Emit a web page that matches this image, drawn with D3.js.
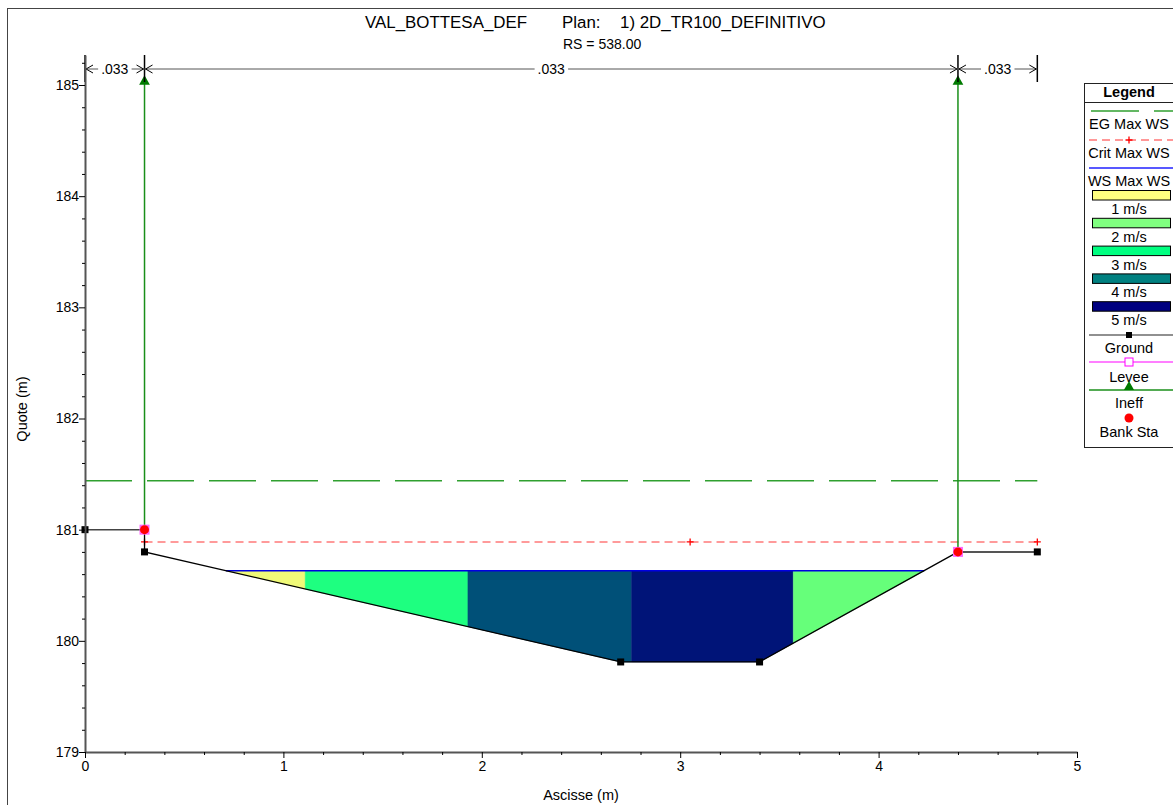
<!DOCTYPE html>
<html><head><meta charset="utf-8">
<script src="https://cdn.jsdelivr.net/npm/d3@7"></script>
<style>body{margin:0;background:#fff;}svg{display:block;font-family:"Liberation Sans",Arial,sans-serif;}</style>
</head><body>
<svg id="c" width="1173" height="805"></svg>
<script>
// ---- data ----
const groundX = [0, 0.3, 0.3, 2.7, 3.4, 4.4, 4.8];
const groundY = [181.0, 181.0, 180.8, 179.81, 179.81, 180.8, 180.8];
const groundMarkX = [0, 0.3, 2.7, 3.4, 4.8];
const groundMarkY = [181.0, 180.8, 179.81, 179.81, 180.8];
const wsElev = 180.63;
const wsExtent = [0.71, 4.23];
const egElev = 181.44;
const egExtent = [0, 4.8];
const critElev = 180.89;
const critX = [0.3, 3.05, 4.8];
const bandBounds = [0.71, 1.11, 1.93, 2.755, 3.57, 4.23];
const bandColors = ["#f0fa78", "#1eff80", "#005078", "#001478", "#66ff7a"];
const ineffX = [0.3, 4.4];
const ineffBase = [181.0, 180.8];
const ineffTop = 185.04;
const bankX = [0.3, 4.4];
const bankY = [181.0, 180.8];
const manningBounds = [0, 0.3, 4.4, 4.8];
const manningN = [".033", ".033", ".033"];
const yTicks = [179, 180, 181, 182, 183, 184, 185];
const xTicks = [0, 1, 2, 3, 4, 5];
const legendVel = ["1 m/s", "2 m/s", "3 m/s", "4 m/s", "5 m/s"];
const legendVelColors = ["#ffff80", "#80ff80", "#00ff80", "#008080", "#000080"];

const svg = d3.select("#c");
const x = d3.scaleLinear().domain([0, 5]).range([85, 1077]);
const y = d3.scaleLinear().domain([179, 185.27]).range([752, 55]);

// outer frame
svg.append("rect").attr("x", 7.5).attr("y", 8.5).attr("width", 1200).attr("height", 830)
  .attr("fill", "none").attr("stroke", "#444").attr("stroke-width", 1);

// title
svg.append("text").attr("x", 365).attr("y", 28).attr("font-size", 16.9).text("VAL_BOTTESA_DEF");
svg.append("text").attr("x", 562).attr("y", 28).attr("font-size", 16.9).text("Plan:");
svg.append("text").attr("x", 620).attr("y", 28).attr("font-size", 16.9).text("1) 2D_TR100_DEFINITIVO");
svg.append("text").attr("x", 563).attr("y", 49).attr("font-size", 14).text("RS = 538.00");

// velocity bands
const groundPts = groundX.map((d, i) => [d, groundY[i]]);
function groundAt(xx) {
  for (let i = 0; i < groundPts.length - 1; i++) {
    const a = groundPts[i], b = groundPts[i + 1];
    if (xx >= a[0] && xx <= b[0] && b[0] > a[0]) return a[1] + (b[1] - a[1]) * (xx - a[0]) / (b[0] - a[0]);
  }
  return groundPts[groundPts.length - 1][1];
}
for (let k = 0; k < bandColors.length; k++) {
  const x0 = bandBounds[k], x1 = bandBounds[k + 1];
  const pts = [[x0, wsElev], [x1, wsElev]];
  const inner = groundPts.filter(p => p[0] > x0 && p[0] < x1).reverse();
  pts.push([x1, Math.min(wsElev, groundAt(x1))]);
  inner.forEach(p => pts.push(p));
  pts.push([x0, Math.min(wsElev, groundAt(x0))]);
  svg.append("path").attr("d", "M" + pts.map(p => x(p[0]) + "," + y(p[1])).join("L") + "Z")
    .attr("fill", bandColors[k]).attr("stroke", bandColors[k]).attr("stroke-width", 0.5);
}

// WS line
svg.append("line").attr("x1", x(wsExtent[0])).attr("x2", x(wsExtent[1])).attr("y1", y(wsElev)).attr("y2", y(wsElev))
  .attr("stroke", "#0000e0").attr("stroke-width", 1.5);

// EG line
svg.append("line").attr("x1", x(egExtent[0])).attr("x2", x(egExtent[1])).attr("y1", y(egElev)).attr("y2", y(egElev))
  .attr("stroke", "#30a030").attr("stroke-width", 1.3).attr("stroke-dasharray", "47,15");

// Crit line
svg.append("line").attr("x1", x(critX[0])).attr("x2", x(critX[critX.length - 1])).attr("y1", y(critElev)).attr("y2", y(critElev))
  .attr("stroke", "#ff7a7a").attr("stroke-width", 1.5).attr("stroke-dasharray", "8,5");
critX.forEach(cx => {
  svg.append("path").attr("d", `M${x(cx) - 3.5},${y(critElev)}h7M${x(cx)},${y(critElev) - 3.5}v7`)
    .attr("stroke", "#ff0000").attr("stroke-width", 1.3);
});

// Ineff lines
ineffX.forEach((ix, i) => {
  svg.append("line").attr("x1", x(ix)).attr("x2", x(ix)).attr("y1", y(ineffBase[i])).attr("y2", y(ineffTop))
    .attr("stroke", "#1a8f1a").attr("stroke-width", 1.5);
  svg.append("path").attr("d", d3.symbol(d3.symbolTriangle, 50)()).attr("transform", `translate(${x(ix)},${y(ineffTop) + 1})`)
    .attr("fill", "#007a00");
});

// Ground line
const line = d3.line().x(d => x(d[0])).y(d => y(d[1]));
svg.append("path").attr("d", line(groundPts.slice(0, 2))).attr("fill", "none").attr("stroke", "#444").attr("stroke-width", 1.5);
svg.append("path").attr("d", line(groundPts.slice(1, 6))).attr("fill", "none").attr("stroke", "#000").attr("stroke-width", 1.3);
svg.append("path").attr("d", line(groundPts.slice(5))).attr("fill", "none").attr("stroke", "#555").attr("stroke-width", 2);
groundMarkX.forEach((gx, i) => {
  svg.append("rect").attr("x", x(gx) - 3.5).attr("y", y(groundMarkY[i]) - 3.5).attr("width", 7).attr("height", 7).attr("fill", "#000");
});

// bank stations
bankX.forEach((bx, i) => {
  svg.append("rect").attr("x", x(bx) - 5).attr("y", y(bankY[i]) - 5).attr("width", 10).attr("height", 10).attr("fill", "#ff66ff");
  svg.append("circle").attr("cx", x(bx)).attr("cy", y(bankY[i])).attr("r", 4.5).attr("fill", "#ff0000");
});

// Manning dimension lines
const dimY = 69;
manningBounds.forEach(b => {
  svg.append("line").attr("x1", x(b)).attr("x2", x(b)).attr("y1", 55).attr("y2", 82).attr("stroke", "#000").attr("stroke-width", 1.5);
});
manningN.forEach((n, i) => {
  const a = x(manningBounds[i]), b = x(manningBounds[i + 1]);
  svg.append("line").attr("x1", a).attr("x2", b).attr("y1", dimY).attr("y2", dimY).attr("stroke", "#555").attr("stroke-width", 1);
  svg.append("path").attr("d", `M${a + 8},${dimY - 4}L${a + 1},${dimY}L${a + 8},${dimY + 4}M${b - 8},${dimY - 4}L${b - 1},${dimY}L${b - 8},${dimY + 4}`)
    .attr("fill", "none").attr("stroke", "#000").attr("stroke-width", 1);
  const t = svg.append("text").attr("x", (a + b) / 2).attr("y", dimY + 5).attr("text-anchor", "middle").attr("font-size", 14).text(n);
  const bb = t.node().getBBox();
  svg.insert("rect", "text:last-of-type").attr("x", bb.x - 3).attr("y", bb.y).attr("width", bb.width + 6).attr("height", bb.height).attr("fill", "#fff");
});

// axes
const yAxis = svg.append("g").attr("transform", "translate(85,0)")
  .call(d3.axisLeft(y).tickValues(yTicks).tickSize(6).tickSizeOuter(0).tickFormat(d3.format("d")));
const yMinor = svg.append("g").attr("transform", "translate(85,0)")
  .call(d3.axisLeft(y).tickValues(d3.range(179, 185.21, 0.2).filter(v => Math.abs(v - Math.round(v)) > 0.01)).tickSize(3).tickSizeOuter(0).tickFormat(""));
yMinor.select(".domain").remove();
const xAxis = svg.append("g").attr("transform", "translate(0,752)")
  .call(d3.axisBottom(x).tickValues(xTicks).tickSize(6).tickSizeOuter(0).tickFormat(d3.format("d")));
const xMinor = svg.append("g").attr("transform", "translate(0,752)")
  .call(d3.axisBottom(x).tickValues(d3.range(0, 5.01, 0.2).filter(v => Math.abs(v - Math.round(v)) > 0.01)).tickSize(3).tickSizeOuter(0).tickFormat(""));
xMinor.select(".domain").remove();
[yAxis, xAxis, yMinor, xMinor].forEach(g => {
  g.selectAll("text").attr("font-size", 14).attr("font-family", "Liberation Sans, Arial, sans-serif").attr("fill", "#000");
  g.selectAll("line").attr("stroke", "#000");
  g.select(".domain").attr("stroke", "#555").attr("stroke-width", 2);
});
yAxis.selectAll(".tick text").attr("x", -6);
xAxis.selectAll(".tick text").attr("y", 9);

svg.append("text").attr("x", 581).attr("y", 800).attr("text-anchor", "middle").attr("font-size", 14.5).text("Ascisse (m)");
svg.append("text").attr("transform", "translate(27,409) rotate(-90)").attr("text-anchor", "middle").attr("font-size", 14.5).text("Quote (m)");

// legend
const lg = svg.append("g");
const lx = 1084, lw = 100, lc = 1129;
lg.append("rect").attr("x", lx + 0.5).attr("y", 83.5).attr("width", lw).attr("height", 364).attr("fill", "#fff").attr("stroke", "#222");
lg.append("text").attr("x", lc).attr("y", 97).attr("text-anchor", "middle").attr("font-size", 14.5).attr("font-weight", "bold").text("Legend");
lg.append("line").attr("x1", lx).attr("x2", lx + lw).attr("y1", 102.5).attr("y2", 102.5).attr("stroke", "#222");
function ltext(t, yy) { lg.append("text").attr("x", lc).attr("y", yy).attr("text-anchor", "middle").attr("font-size", 14.5).text(t); }
lg.append("line").attr("x1", 1091).attr("x2", 1175).attr("y1", 111).attr("y2", 111).attr("stroke", "#30a030").attr("stroke-width", 1.3).attr("stroke-dasharray", "48,15");
ltext("EG Max WS", 129);
lg.append("line").attr("x1", 1089).attr("x2", 1175).attr("y1", 140).attr("y2", 140).attr("stroke", "#ff3030").attr("stroke-width", 1).attr("stroke-dasharray", "8,5");
lg.append("path").attr("d", `M${lc - 3.5},140h7M${lc},136.5v7`).attr("stroke", "#ff0000").attr("stroke-width", 1.3);
ltext("Crit Max WS", 158);
lg.append("line").attr("x1", 1089).attr("x2", 1175).attr("y1", 168).attr("y2", 168).attr("stroke", "#2020ff").attr("stroke-width", 1.3);
ltext("WS Max WS", 186);
legendVel.forEach((v, i) => {
  const yy = 190 + i * 27.8;
  lg.append("rect").attr("x", 1092.5).attr("y", yy + 0.5).attr("width", 78).attr("height", 9.5).attr("fill", legendVelColors[i]).attr("stroke", "#000");
  ltext(v, yy + 24);
});
lg.append("line").attr("x1", 1089).attr("x2", 1175).attr("y1", 335).attr("y2", 335).attr("stroke", "#222").attr("stroke-width", 1.2);
lg.append("rect").attr("x", lc - 3).attr("y", 332).attr("width", 6).attr("height", 6).attr("fill", "#000");
ltext("Ground", 353);
lg.append("line").attr("x1", 1089).attr("x2", 1175).attr("y1", 362).attr("y2", 362).attr("stroke", "#ff00ff").attr("stroke-width", 1.2);
lg.append("rect").attr("x", lc - 4).attr("y", 358).attr("width", 8).attr("height", 8).attr("fill", "#fff").attr("stroke", "#ff00ff");
ltext("Levee", 382);
lg.append("line").attr("x1", 1089).attr("x2", 1175).attr("y1", 390).attr("y2", 390).attr("stroke", "#1a8f1a").attr("stroke-width", 1.3);
lg.append("path").attr("d", d3.symbol(d3.symbolTriangle, 45)()).attr("transform", `translate(${lc},387)`).attr("fill", "#007a00");
ltext("Ineff", 408);
lg.append("circle").attr("cx", lc).attr("cy", 418).attr("r", 4.5).attr("fill", "#ff0000");
ltext("Bank Sta", 437);
</script>
</body></html>
